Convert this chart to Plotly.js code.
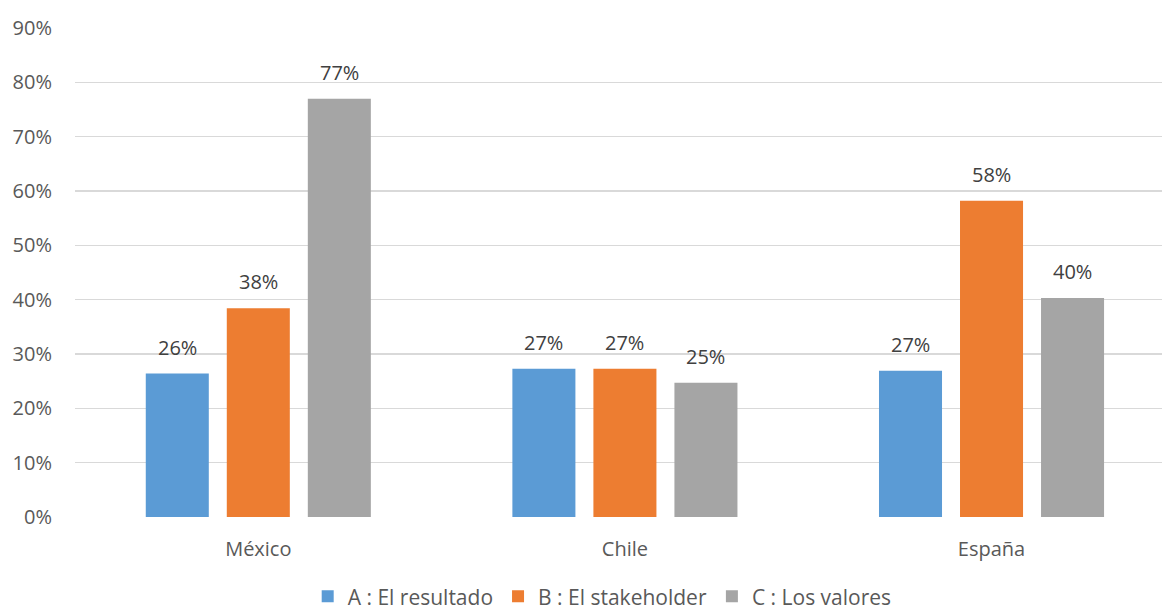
<!DOCTYPE html>
<html>
<head>
<meta charset="utf-8">
<script src="https://cdn.plot.ly/plotly-3.0.1.min.js"></script>
<style>html,body{margin:0;padding:0;background:#fff;}#chart{width:1162px;height:610px;}</style>
</head>
<body>
<div id="chart"></div>
<script>
const categories = ["México", "Chile", "España"];
const seriesNames = ["A : El resultado", "B : El stakeholder", "C : Los valores"];
const seriesA = [0.264, 0.273, 0.269];
const seriesB = [0.384, 0.273, 0.582];
const seriesC = [0.770, 0.247, 0.403];
const yTickVals = [0, 0.1, 0.2, 0.3, 0.4, 0.5, 0.6, 0.7, 0.8, 0.9];
const yTickText = ["0%", "10%", "20%", "30%", "40%", "50%", "60%", "70%", "80%", "90%"];

const colors = ["#5B9BD5", "#ED7D31", "#A5A5A5"];
const allSeries = [seriesA, seriesB, seriesC];
const FONT = "Open Sans, Noto Sans, sans-serif";
const FS = 20;

const traces = allSeries.map((vals, i) => ({
  type: "bar",
  name: seriesNames[i],
  x: categories,
  y: vals,
  marker: { color: colors[i] },
  hoverinfo: "none"
}));

const pitch = 81;
const annotations = [];
allSeries.forEach((vals, i) => {
  vals.forEach((v, j) => {
    annotations.push({
      x: categories[j], y: v, xref: "x", yref: "y",
      text: Math.round(v * 100) + "%",
      showarrow: false, yanchor: "bottom",
      xshift: (i - 1) * pitch, yshift: 11,
      font: { family: FONT, size: FS, color: "#404040" }
    });
  });
});

const layout = {
  width: 1162, height: 610,
  margin: { l: 75, r: 0, t: 28, b: 93, autoexpand: false },
  paper_bgcolor: "#fff", plot_bgcolor: "#fff",
  barmode: "group",
  bargap: 0.337,
  bargroupgap: 0.222,
  font: { family: FONT, size: FS, color: "#595959" },
  xaxis: {
    type: "category",
    range: [-0.5, 2.465],
    automargin: false,
    showgrid: false, zeroline: false, showline: false,
    ticks: "", ticklabelstandoff: 18,
    tickfont: { family: FONT, size: FS, color: "#595959" }
  },
  yaxis: {
    range: [0, 0.9],
    automargin: false,
    tickvals: yTickVals, ticktext: yTickText,
    showgrid: true, gridcolor: "#d9d9d9", gridwidth: 1.5,
    zeroline: false, showline: false, ticks: "",
    ticklabelstandoff: 22,
    tickfont: { family: FONT, size: FS, color: "#595959" }
  },
  showlegend: true,
  legend: {
    orientation: "h", x: 0.485, xanchor: "center", y: -0.163, yanchor: "middle",
    font: { family: FONT, size: 21, color: "#595959" },
    itemwidth: 30, traceorder: "normal"
  },
  annotations: annotations
};

Plotly.newPlot("chart", traces, layout, { displayModeBar: false, staticPlot: true });
</script>
</body>
</html>
